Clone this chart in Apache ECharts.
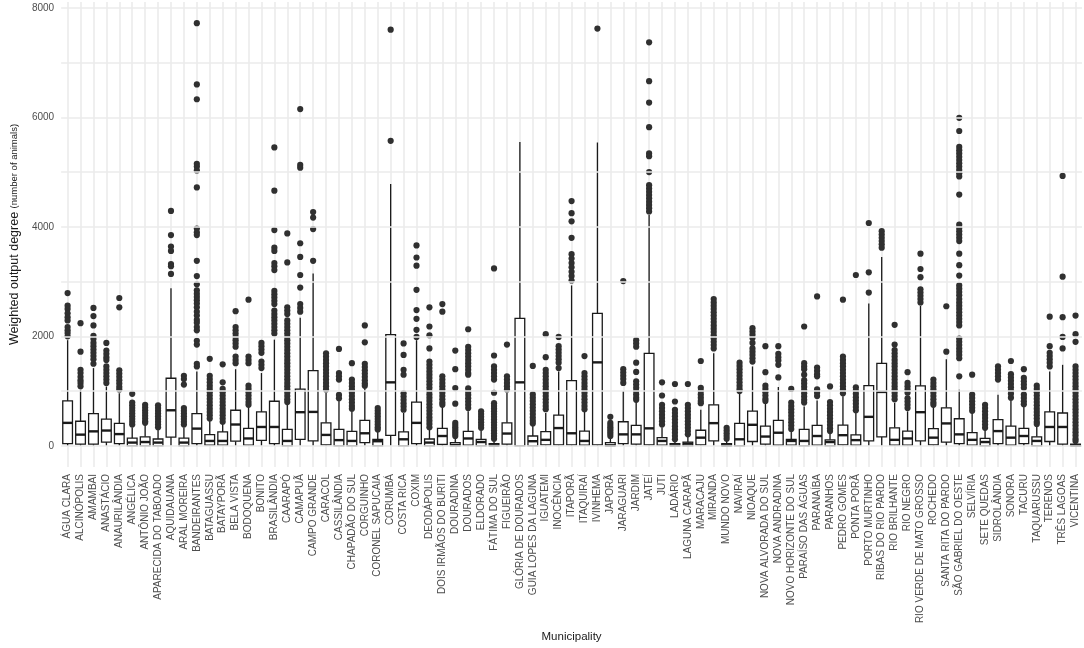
<!DOCTYPE html>
<html><head><meta charset="utf-8">
<script src="https://cdn.jsdelivr.net/npm/echarts@6/dist/echarts.min.js"></script>
<style>html,body{margin:0;padding:0;background:#fff}#c{width:1084px;height:648px}</style>
</head><body><div id="c"></div>
<script>
const categories = ["ÁGUA CLARA","ALCINÓPOLIS","AMAMBAI","ANASTÁCIO","ANAURILÂNDIA","ANGÉLICA","ANTÔNIO JOÃO","APARECIDA DO TABOADO","AQUIDAUANA","ARAL MOREIRA","BANDEIRANTES","BATAGUASSU","BATAYPORÃ","BELA VISTA","BODOQUENA","BONITO","BRASILÂNDIA","CAARAPÓ","CAMAPUÃ","CAMPO GRANDE","CARACOL","CASSILÂNDIA","CHAPADÃO DO SUL","CORGUINHO","CORONEL SAPUCAIA","CORUMBÁ","COSTA RICA","COXIM","DEODÁPOLIS","DOIS IRMÃOS DO BURITI","DOURADINA","DOURADOS","ELDORADO","FÁTIMA DO SUL","FIGUEIRÃO","GLÓRIA DE DOURADOS","GUIA LOPES DA LAGUNA","IGUATEMI","INOCÊNCIA","ITAPORÃ","ITAQUIRAÍ","IVINHEMA","JAPORÃ","JARAGUARI","JARDIM","JATEÍ","JUTI","LADÁRIO","LAGUNA CARAPÃ","MARACAJU","MIRANDA","MUNDO NOVO","NAVIRAÍ","NIOAQUE","NOVA ALVORADA DO SUL","NOVA ANDRADINA","NOVO HORIZONTE DO SUL","PARAÍSO DAS ÁGUAS","PARANAÍBA","PARANHOS","PEDRO GOMES","PONTA PORÃ","PORTO MURTINHO","RIBAS DO RIO PARDO","RIO BRILHANTE","RIO NEGRO","RIO VERDE DE MATO GROSSO","ROCHEDO","SANTA RITA DO PARDO","SÃO GABRIEL DO OESTE","SELVÍRIA","SETE QUEDAS","SIDROLÂNDIA","SONORA","TACURU","TAQUARUSSU","TERENOS","TRÊS LAGOAS","VICENTINA"];

const whiskerLow = [0,0,0,0,0,0,0,0,0,0, 0,0,0,0,0,0,0,0,0,0, 0,0,0,0,0,0,0,0,0,0, 0,0,0,0,0,0,0,0,0,0, 0,0,0,0,0,0,0,0,0,0, 0,0,0,0,0,0,0,0,0,0, 0,0,0,0,0,0,0,0,0,0, 0,0,0,0,0,0,0,0,0];
const q1 = [40,30,30,70,40,0,0,0,160,0, 40,12,12,85,12,100,40,0,120,90, 18,0,0,60,0,190,0,40,0,25, 0,12,0,0,30,0,0,18,18,18, 12,18,0,40,30,18,12,0,0,18, 90,0,0,80,30,12,12,0,12,0, 18,12,90,165,12,12,90,18,70,40, 12,0,40,12,40,0,80,30,0];
const median = [420,205,265,280,215,60,70,60,650,60, 315,90,90,390,135,345,345,90,615,620, 200,105,90,230,85,1160,120,420,60,180, 15,135,70,10,225,1160,85,110,325,230, 90,1525,10,210,210,320,90,10,40,150, 415,10,120,385,170,240,90,90,180,70, 195,105,530,985,110,135,615,150,410,210, 110,70,270,150,180,90,345,345,10];
const q3 = [820,450,590,490,410,140,165,125,1235,140, 590,205,255,650,320,620,815,300,1035,1375, 420,300,265,465,120,2030,255,800,125,320, 60,265,120,40,420,2330,180,260,560,1190, 270,2420,60,440,375,1690,150,40,70,285, 750,40,410,635,360,465,120,300,375,110, 380,200,1100,1505,330,270,1095,315,695,495, 240,135,480,360,320,165,620,600,30];
const whiskerHigh = [1930,1025,1420,1085,960,340,380,300,2880,340, 1360,480,420,1400,720,1330,1940,750,2340,3150, 965,840,660,1085,290,4780,600,1930,300,720, 140,630,280,100,965,5550,400,600,1360,2930, 640,5540,140,1000,800,4220,340,100,160,660, 1690,100,965,1450,785,1075,280,720,830,260, 905,600,2600,3450,785,630,2560,725,1580,1025, 620,300,935,845,725,380,1360,1480,75];
const outliers = [
 [2790,2560,2500,2420,2350,2290,2170,2110,2060,2000],
 [2240,1720,1390,1330,1260,1200,1150,1090],
 [2520,2370,2200,2010,1950,1880,1820,1760,1700,1640,1580,1500],
 [1880,1740,1680,1620,1570,1450,1390,1330,1270,1210,1150],
 [2700,2530,1380,1320,1260,1200,1140,1080,1030],
 [950,790,740,690,640,590,540,490,440,390],
 [750,700,650,600,550,500,450,420],
 [740,690,640,590,540,490,440,390,340],
 [4290,3850,3640,3560,3320,3280,3140],
 [1280,1220,1120,690,640,590,540,490,440,390],
 [7720,6600,6330,5150,5100,5030,4720,3970,3900,3850,3380,3100,2950,2840,2780,2720,2660,2600,2530,2450,2380,2300,2250,2170,2110,1920,1850,1500,1450],
 [1590,1280,1220,1160,1100,1040,980,920,860,800,740,680,620,560,500],
 [1490,1160,1040,980,920,860,800,740,680,620,560,500,440],
 [2460,2170,2110,2050,1990,1930,1870,1810,1630,1570,1510],
 [2670,1630,1570,1510,1100,1040,980,920,860,800,750],
 [1880,1820,1760,1700,1540,1480,1420],
 [5450,4660,3940,3620,3560,3340,3280,3210,2830,2770,2710,2650,2590,2470,2410,2350,2290,2230,2170,2110,2050],
 [3880,3350,2530,2470,2410,2290,2230,2170,2110,2050,1990,1930,1870,1810,1750,1690,1630,1570,1510,1450,1390,1330,1270,1210,1150,1090,1030,970,910,850,800],
 [6150,5130,5080,3700,3450,3120,2890,2590,2520,2450],
 [4270,4170,3960,3380],
 [1690,1630,1570,1510,1450,1390,1330,1270,1210,1150,1090,1030],
 [1770,1330,1270,1210,930,870],
 [1510,1210,1150,1090,1030,970,910,850,790,730,680],
 [2200,1890,1500,1440,1380,1320,1260,1200,1140,1100],
 [690,640,590,540,490,440,390,340,300],
 [7600,5570],
 [1870,1660,1390,1300,960,900,840,780,720,660],
 [3660,3440,3290,2850,2480,2320,2120,1990],
 [2530,2180,2020,1780,1540,1480,1420,1360,1300,1240,1180,1120,1060,1000,940,880,820,760,700,640,580,520,460,400,340],
 [2590,2450,1270,1210,1150,1090,1030,970,910,850,790,750],
 [1740,1400,1055,770,420,380,340,300,260,220,180],
 [2130,1810,1750,1690,1630,1570,1510,1450,1390,1330,1300,1050,990,930,870,810,750,690],
 [630,580,530,480,430,380,330],
 [3240,1650,1450,1390,1330,1270,1210,970,780,730,680,630,580,530,480,430,380,330,280,230,180,130],
 [1850,1270,1210,1150,1090,1030],
 [],
 [1460,940,880,820,760,700,640,580,520,460,410],
 [2040,1620,1390,1330,1270,1210,1150,1090,1030,970,910,850,790,730,670],
 [1990,1820,1760,1700,1640,1580,1520,1420],
 [4470,4250,4100,3800,3500,3420,3340,3260,3180,3100,3020],
 [1640,1330,1270,1210,1150,1090,1030,970,910,850,790,730,670],
 [7620],
 [530,420,380,340,300,260,220,180],
 [3010,1400,1340,1280,1220,1150],
 [1930,1870,1810,1520,1350,1180,1120,1060,1000,940,880,840],
 [7370,6660,6270,5820,5340,5290,5000,4760,4700,4640,4580,4520,4460,4400,4340,4280],
 [1160,920,750,690,630,570,510,450,390],
 [1130,810,660,600,540,480,420,360,300,240,180,120],
 [1130,750,690,630,570,510,450,390,330,270,210],
 [1550,1060,1000,940,880,820,780],
 [2680,2620,2560,2500,2440,2380,2320,2260,2200,2140,2080,2020,1960,1900,1840,1780],
 [330,280,230,180,130],
 [1520,1460,1400,1340,1280,1220,1160,1100,1040,1000],
 [2150,2090,2030,1970,1880,1780,1720,1660,1600,1540],
 [1820,1345,1100,1040,980,920,860,820],
 [1820,1680,1620,1560,1480,1250],
 [1040,790,730,670,610,550,490,430,370,310],
 [2180,1510,1450,1400,1300,1200,1140,1080,1020,960,900,840,790],
 [2730,1430,1370,1310,1270,1030,970,910],
 [1085,800,740,680,620,560,500,440,380,320,270],
 [2670,1630,1570,1510,1450,1390,1330,1270,1210,1150,1090,1030,960],
 [3120,1070,1010,950,890,830,770,710,650],
 [4070,3170,2800],
 [3920,3860,3800,3740,3680,3620],
 [2210,1850,1750,1690,1630,1570,1510,1450,1390,1330,1270,1210,1150,1090,1030,970,910,850],
 [1345,1150,1090,1030,970,870,810,750,690],
 [3510,3230,3080,2860,2800,2740,2680,2620],
 [1210,1150,1090,1030,970,910,850,790,750],
 [2550,1720],
 [5990,5750,5460,5400,5340,5280,5220,5160,5100,5040,4980,4920,4590,4040,3980,3920,3860,3800,3740,3510,3300,3110,2930,2870,2810,2750,2680,2620,2560,2500,2440,2380,2320,2260,2200,1960,1900,1840,1780,1720,1660,1600,1270],
 [1300,935,875,815,755,695,640],
 [750,690,630,570,510,450,390,330],
 [1450,1390,1330,1270,1210],
 [1550,1310,1250,1190,1130,1070,1010,950,880],
 [1400,1240,1180,1120,1060,935,875,815,760],
 [1100,1040,980,920,860,800,740,680,620,560,500,440,400],
 [2360,1820,1700,1640,1580,1520,1450],
 [4930,3090,2350,1990,1780],
 [2380,2040,1900,1450,1390,1330,1270,1210,1150,1090,1030,970,910,850,790,730,670,610,550,490,430,370,310,250,190,130,90]
];
const yLabelTicks = [0,2000,4000,6000,8000];
const yGridTicks = [0,1000,2000,3000,4000,5000,6000,7000,8000];

const boxData = categories.map((c, i) => [i, whiskerLow[i], q1[i], median[i], q3[i], whiskerHigh[i]]);
const outlierData = [];
outliers.forEach((arr, i) => arr.forEach(v => outlierData.push([i, v])));

const INK = '#1a1a1a';
const GRID = '#ebebeb';
const FONT = 'Liberation Sans, Arial, sans-serif';
function renderBox(params, api) {
  const i = api.value(0);
  const lo = api.coord([i, api.value(1)]);
  const b1 = api.coord([i, api.value(2)]);
  const md = api.coord([i, api.value(3)]);
  const b3 = api.coord([i, api.value(4)]);
  const hi = api.coord([i, api.value(5)]);
  const hw = api.size([1, 0])[0] * 0.375;
  const x = lo[0];
  const ls = {stroke: INK, lineWidth: 1.3, fill: null};
  return {type: 'group', children: [
    {type: 'line', shape: {x1: x, y1: hi[1], x2: x, y2: b3[1]}, style: ls},
    {type: 'line', shape: {x1: x, y1: b1[1], x2: x, y2: lo[1]}, style: ls},
    {type: 'rect', shape: {x: x - hw, y: b3[1], width: 2 * hw, height: b1[1] - b3[1]}, style: {stroke: INK, lineWidth: 1.3, fill: '#ffffff'}},
    {type: 'line', shape: {x1: x - hw, y1: md[1], x2: x + hw, y2: md[1]}, style: {stroke: INK, lineWidth: 2.4}}
  ]};
}

const chart = echarts.init(document.getElementById('c'), null, {renderer: 'canvas'});
chart.setOption({
  animation: false,
  backgroundColor: '#ffffff',
  textStyle: {fontFamily: FONT},
  grid: {left: 48, right: 2, top: 2, bottom: 177, containLabel: false},
  xAxis: {
    type: 'category',
    data: categories,
    boundaryGap: true,
    axisLine: {show: false},
    axisTick: {show: false, alignWithLabel: true},
    axisLabel: {rotate: 90, interval: 0, fontSize: 10, color: '#4d4d4d', margin: 7, fontFamily: FONT},
    splitLine: {show: true, interval: 0, alignWithLabel: true, lineStyle: {color: GRID, width: 1.6}},
    name: 'Municipality',
    nameLocation: 'middle',
    nameGap: 162,
    nameTextStyle: {fontSize: 11.5, color: INK, fontFamily: FONT}
  },
  yAxis: {
    type: 'value',
    min: -386,
    max: 8106,
    axisLine: {show: false},
    axisTick: {show: false},
    axisLabel: {customValues: yLabelTicks, formatter: v => String(v), fontSize: 10, color: '#4d4d4d', margin: 7, fontFamily: FONT},
    splitLine: {show: false},
    name: '{a|Weighted output degree }{b|(number of animals)}',
    nameLocation: 'middle',
    nameGap: 38,
    nameRotate: 90,
    nameTextStyle: {rich: {
      a: {fontSize: 12.5, color: INK, fontFamily: FONT},
      b: {fontSize: 9.5, color: INK, fontFamily: FONT}
    }}
  },
  series: [
    {type: 'scatter', data: [], z: 0, silent: true,
     markLine: {silent: true, symbol: ['none', 'none'], label: {show: false}, animation: false,
       lineStyle: {color: GRID, width: 1.6, type: 'solid'},
       emphasis: {disabled: true},
       data: yGridTicks.map(v => ({yAxis: v}))}},
    {type: 'custom', renderItem: renderBox, data: boxData, encode: {x: 0, y: [1, 2, 3, 4, 5]}, z: 2},
    {type: 'scatter', data: outlierData, symbol: 'circle', symbolSize: 6.2, itemStyle: {color: '#303030', opacity: 1}, z: 3, silent: true}
  ]
});
</script>
</body></html>
